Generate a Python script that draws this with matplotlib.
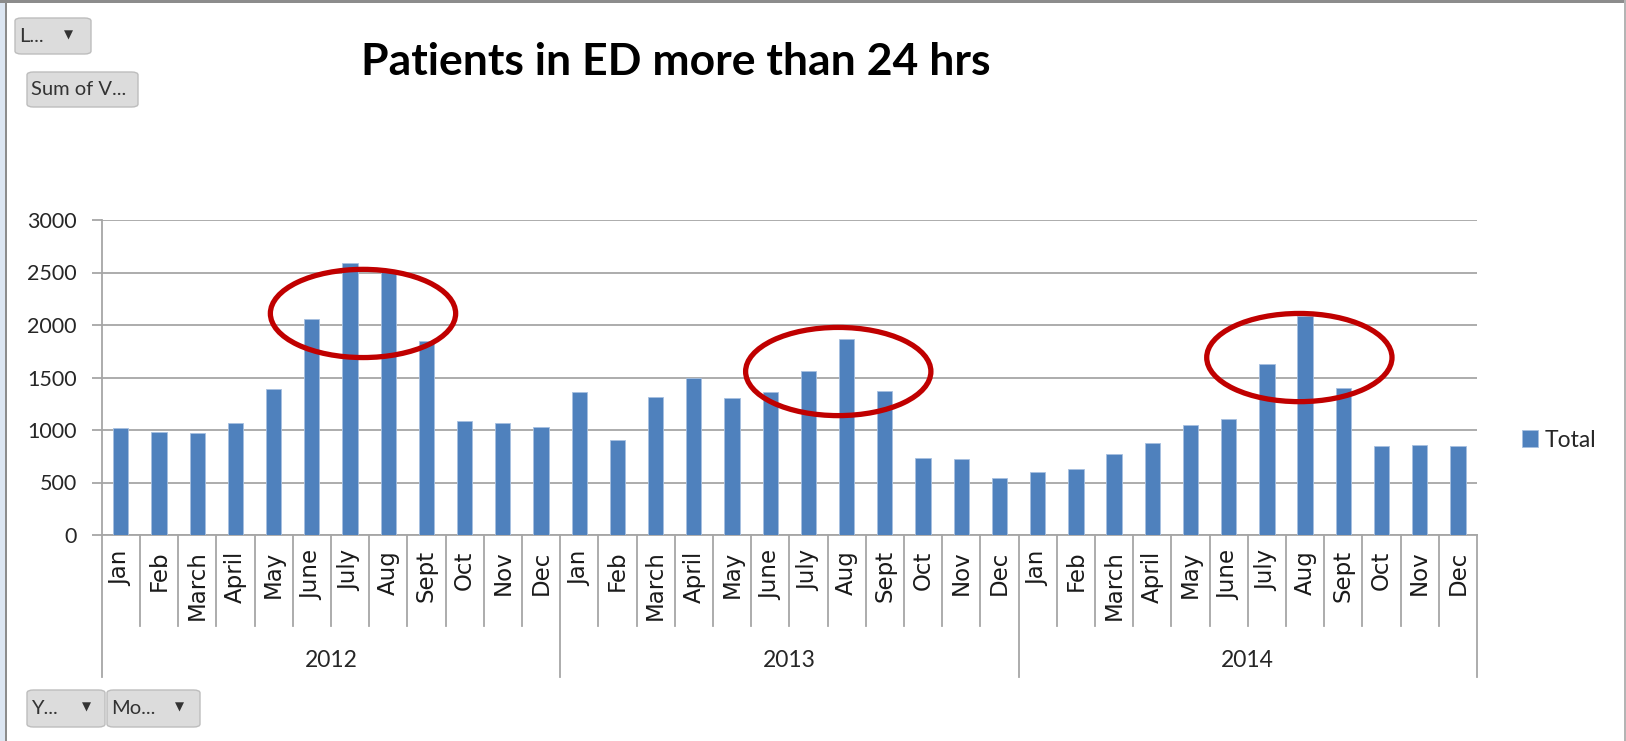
import matplotlib
matplotlib.use("Agg")
import matplotlib.pyplot as plt
import matplotlib.transforms as mtransforms
from matplotlib.patches import Ellipse, Rectangle, FancyBboxPatch

W, H = 1626, 741

years = ["2012", "2013", "2014"]
months = ["Jan", "Feb", "March", "April", "May", "June",
          "July", "Aug", "Sept", "Oct", "Nov", "Dec"]
total_2012 = [1016, 978, 968, 1063, 1394, 2054, 2590, 2510, 1850, 1089, 1063, 1025]
total_2013 = [1359, 905, 1317, 1498, 1308, 1359, 1565, 1870, 1368, 733, 721, 540]
total_2014 = [597, 625, 771, 879, 1051, 1102, 1625, 2090, 1403, 844, 857, 844]
# highlighted summer peaks: (centre month index, centre value)
highlights = [(6.34, 2110), (18.78, 1557), (30.85, 1690)]

values = total_2012 + total_2013 + total_2014
labels = months * len(years)
x = list(range(len(values)))

BAR = "#4F81BD"
GRID = "#A6A6A6"
TXT = "#262626"
NUM_FONT = ["Lato", "DejaVu Sans"]
CAT_FONT = ["DejaVu Sans"]


def fx(px):
    return px / W


def fy(py):
    return 1 - py / H


def button(fig, x0, y0, x1, y1, text, arrow=None):
    box = FancyBboxPatch((fx(x0), fy(y1)), fx(x1 - x0), (y1 - y0) / H,
                         boxstyle="round,pad=0,rounding_size=0.004",
                         transform=fig.transFigure, facecolor="#DCDCDC",
                         edgecolor="#BDBDBD", linewidth=1)
    fig.add_artist(box)
    fig.text(fx(x0 + 4), fy((y0 + y1) / 2), text, ha="left", va="center",
             fontsize=14.5, color="#333333", family=NUM_FONT)
    if arrow is not None:
        fig.text(fx(arrow), fy((y0 + y1) / 2 - 1), "\u25BC", ha="center", va="center",
                 fontsize=8.5, color="#333333", family="DejaVu Sans")


fig = plt.figure(figsize=(W / 100, H / 100), dpi=100)
ax = fig.add_axes([fx(101.7), fy(535), fx(1477 - 101.7), 315 / H])

ax.bar(x, values, width=0.40, color=BAR, edgecolor="#A7C0E0", linewidth=0.6,
       label="Total", zorder=3)

ax.set_xlim(-0.5, len(values) - 0.5)
ax.set_ylim(0, 3000)
ax.set_yticks(range(0, 3001, 500))
ax.yaxis.grid(True, color=GRID, linewidth=1.3, zorder=0)
ax.set_axisbelow(True)
for s in ["top", "right"]:
    ax.spines[s].set_visible(False)
for s in ["left", "bottom"]:
    ax.spines[s].set_color(GRID)
    ax.spines[s].set_linewidth(1.3)
ax.tick_params(axis="y", length=7, color=GRID, width=1.3, pad=11,
               labelsize=15.5, labelcolor=TXT)
for t in ax.get_yticklabels():
    t.set_family(NUM_FONT)

ax.set_xticks(x)
ax.set_xticklabels(labels, rotation=90, family=CAT_FONT, fontsize=16.5,
                   color="#1A1A1A")
ax.tick_params(axis="x", length=0, pad=11)

# category separators below the axis
trans = mtransforms.blended_transform_factory(ax.transData, ax.transAxes)
n = len(values)
for i in range(n + 1):
    b = i - 0.5
    end = -0.451 if i % 12 == 0 else -0.289
    ax.plot([b, b], [0, end], transform=trans, color=GRID, linewidth=1.3,
            clip_on=False)
for k, yr in enumerate(years):
    ax.text(k * 12 + 5.5, -0.397, yr, transform=trans, ha="center", va="center",
            fontsize=16.5, color=TXT, family=NUM_FONT)

# red ellipses marking the peaks
for cx, cy in highlights:
    ax.add_patch(Ellipse((cx, cy), 4.85, 840, fill=False, edgecolor="#C00000",
                         linewidth=3.8, zorder=5, clip_on=False))

leg = ax.legend(loc="center left", bbox_to_anchor=(fx(1501), fy(440)),
                bbox_transform=fig.transFigure, frameon=False,
                handlelength=0.7, handleheight=0.7, handletextpad=0.3,
                prop={"family": NUM_FONT, "size": 16.5})
for t in leg.get_texts():
    t.set_color(TXT)

fig.text(fx(676), fy(62), "Patients in ED more than 24 hrs", ha="center",
         va="center", fontsize=32, fontweight="bold", family=NUM_FONT, color="black")

# pivot chart field buttons
button(fig, 15, 18, 91, 54, "L...", arrow=68)
button(fig, 27, 72, 138, 107, "Sum of V...")
button(fig, 27, 690, 105, 727, "Y...", arrow=86)
button(fig, 107, 690, 200, 727, "Mo...", arrow=179)

# window frame
fig.add_artist(Rectangle((0, 0), fx(5), 1, transform=fig.transFigure,
                         facecolor="#DCE6F2", edgecolor="none"))
fig.add_artist(Rectangle((fx(5), 0), fx(2), 1, transform=fig.transFigure,
                         facecolor="#8C8C8C", edgecolor="none"))
fig.add_artist(Rectangle((0, fy(3)), 1, 3 / H, transform=fig.transFigure,
                         facecolor="#8C8C8C", edgecolor="none"))
fig.add_artist(Rectangle((fx(1624), 0), fx(2), 1, transform=fig.transFigure,
                         facecolor="#B4B4B4", edgecolor="none"))

fig.savefig("out.png", dpi=100)
